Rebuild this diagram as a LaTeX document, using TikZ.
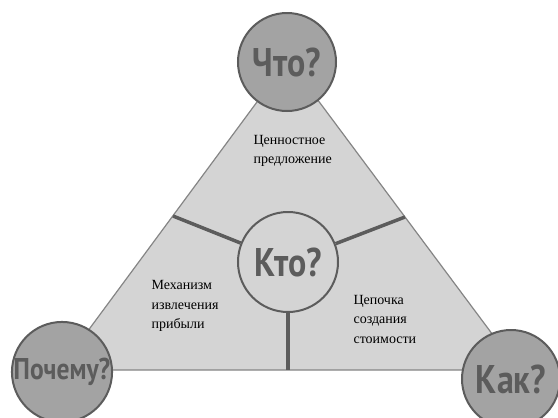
\documentclass[tikz,border=0pt]{standalone}
\usepackage{fontspec}
\setmainfont{Liberation Serif}
\newfontfamily\grosfont[FakeStretch=0.85]{PT Sans}
\definecolor{grisclair}{HTML}{D4D4D4}
\definecolor{grismoyen}{HTML}{A3A3A3}
\definecolor{grisfonce}{HTML}{5C5C5C}

\begin{document}
\begin{tikzpicture}[x=1pt,y=-1pt]
\tikzstyle{bord}=[draw=grisfonce!75,line width=1.2pt]
\tikzstyle{separation}=[draw=grisfonce,line width=3.5pt]
\tikzstyle{texte}=[align=left,anchor=west,font=\fontsize{14}{19.5}\selectfont]
\tikzset{question/.style={circle,draw=grisfonce,line width=2pt,fill=#1,minimum size=98pt,inner sep=0pt,
text=grisfonce,font=\grosfont\bfseries\fontsize{40}{40}\selectfont},
question/.default={grismoyen}}

\useasboundingbox (0,0) rectangle (558,418);
\coordinate (S) at (288,60);
\coordinate (G) at (59,370);
\coordinate (D) at (519,370);
\fill[grisclair] (S) -- (G) -- (D) -- cycle;
\draw[bord] (S) -- (G) -- (D) -- cycle;

\node[texte] (valeur) at (250,151) {Ценностное\\предложение};
\node[texte] (profit) at (148,306) {Механизм\\извлечения\\прибыли};
\node[texte] (chaine) at (350,319) {Цепочка\\создания\\стоимости};

\node[question] (quoi) at (287,62) {Что?};
\node[question] (pourquoi) at (62,372) {\fontsize{30}{30}\selectfont Почему?};
\node[question] (comment) at (511,379) {Как?};
\node[question=grisclair,minimum size=100pt] (qui) at (288,262) {Кто?};

\coordinate (g1) at (173,216);
\coordinate (d1) at (405,217);
\coordinate (b1) at (288,370);
\draw[separation] (qui) -- (g1);
\draw[separation] (qui) -- (d1);
\draw[separation] (qui) -- (b1);

\end{tikzpicture}
\end{document}
